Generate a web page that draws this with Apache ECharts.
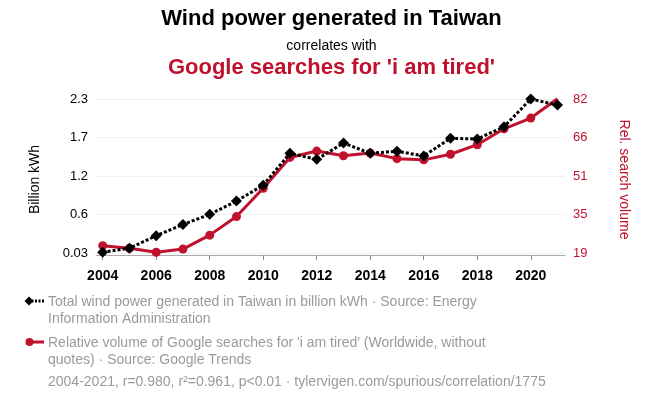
<!DOCTYPE html>
<html>
<head>
<meta charset="utf-8">
<script src="https://cdn.jsdelivr.net/npm/echarts@6/dist/echarts.min.js"></script>
<style>
  html, body { margin: 0; padding: 0; background: #fff; }
  #main { width: 663px; height: 399px; }
</style>
</head>
<body>
<div id="main"></div>
<script>
  // 数据
  var years = [2004, 2005, 2006, 2007, 2008, 2009, 2010, 2011, 2012, 2013, 2014, 2015, 2016, 2017, 2018, 2019, 2020, 2021];
  var windPower = [0.04, 0.10, 0.285, 0.45, 0.60, 0.795, 1.03, 1.50, 1.41, 1.65, 1.50, 1.53, 1.46, 1.72, 1.71, 1.89, 2.30, 2.21];
  var searches = [22.0, 20.9, 19.3, 20.6, 26.3, 33.9, 45.5, 58.1, 60.7, 58.8, 59.9, 57.6, 57.1, 59.4, 63.3, 69.8, 74.2, 82.1];
  var yearTicks = [2004, 2006, 2008, 2010, 2012, 2014, 2016, 2018, 2020];
  var leftTicks = [0.03, 0.5975, 1.165, 1.7325, 2.3];
  var leftTickLabels = ['0.03', '0.6', '1.2', '1.7', '2.3'];
  var rightTicks = [19, 34.75, 50.5, 66.25, 82];
  var rightTickLabels = ['19', '35', '51', '66', '82'];

  var RED = '#c0112e';
  var GREY = '#9a9a9a';
  var FONT = '"Liberation Sans", Arial, sans-serif';

  var myChart = echarts.init(document.getElementById('main'));

  var option = {
    backgroundColor: '#fff',
    textStyle: { fontFamily: FONT },
    animation: false,
    grid: { left: 96, right: 98, top: 99, bottom: 139 },
    xAxis: {
      type: 'value',
      min: 2003.75,
      max: 2021.28,
      axisLine: { lineStyle: { color: '#aaa', width: 1 } },
      axisTick: { show: true, length: 5, customValues: yearTicks, lineStyle: { color: '#888' } },
      splitLine: { show: false },
      axisLabel: {
        customValues: yearTicks,
        color: '#000',
        fontWeight: 'bold',
        fontSize: 14,
        margin: 9,
        fontFamily: FONT,
        formatter: function (v) { return String(Math.round(v)); }
      }
    },
    yAxis: [
      {
        type: 'value',
        min: -0.0734,
        max: 2.3,
        name: 'Billion kWh',
        nameLocation: 'middle',
        nameRotate: 90,
        nameGap: 54,
        nameTextStyle: { color: '#000', fontSize: 14, fontFamily: FONT },
        axisLine: { show: false },
        axisTick: { show: false, customValues: leftTicks },
        splitLine: { show: true, lineStyle: { color: '#f0f0f0', width: 1 } },
        axisLabel: {
          customValues: leftTicks,
          color: '#000',
          fontSize: 13,
          margin: 8,
          fontFamily: FONT,
          formatter: function (v) {
            var i = leftTicks.indexOf(v);
            return i >= 0 ? leftTickLabels[i] : '';
          }
        }
      },
      {
        type: 'value',
        position: 'right',
        min: 16.13,
        max: 82,
        name: 'Rel. search volume',
        nameLocation: 'middle',
        nameRotate: -90,
        nameGap: 52,
        nameTextStyle: { color: RED, fontSize: 14, fontFamily: FONT },
        axisLine: { show: false },
        axisTick: { show: false, customValues: rightTicks },
        splitLine: { show: false },
        axisLabel: {
          customValues: rightTicks,
          color: RED,
          fontSize: 13,
          margin: 8,
          fontFamily: FONT,
          formatter: function (v) {
            var i = rightTicks.indexOf(v);
            return i >= 0 ? rightTickLabels[i] : '';
          }
        }
      }
    ],
    title: [
      {
        text: 'Wind power generated in Taiwan',
        left: 'center', top: 3,
        textStyle: { color: '#000', fontSize: 22, fontWeight: 'bold', fontFamily: FONT }
      },
      {
        text: 'correlates with',
        left: 'center', top: 34,
        textStyle: { color: '#000', fontSize: 14, fontWeight: 'normal', fontFamily: FONT }
      },
      {
        text: "Google searches for 'i am tired'",
        left: 'center', top: 52,
        textStyle: { color: RED, fontSize: 22, fontWeight: 'bold', fontFamily: FONT }
      }
    ],
    series: [
      {
        name: 'search',
        type: 'line',
        yAxisIndex: 1,
        data: years.map(function (y, i) { return [y, searches[i]]; }),
        symbol: 'circle',
        symbolSize: 9,
        itemStyle: { color: RED },
        lineStyle: { color: RED, width: 3 },
        z: 2
      },
      {
        name: 'wind',
        type: 'line',
        yAxisIndex: 0,
        data: years.map(function (y, i) { return [y, windPower[i]]; }),
        symbol: 'diamond',
        symbolSize: 11,
        itemStyle: { color: '#000' },
        lineStyle: { color: '#000', width: 3, type: [3, 2] },
        z: 3
      }
    ],
    graphic: [
      // 图例
      { type: 'line', shape: { x1: 28, y1: 301, x2: 44, y2: 301 }, style: { stroke: '#000', lineWidth: 3, lineDash: [2, 1.5] } },
      { type: 'polygon', shape: { points: [[29, 296.5], [33.5, 301], [29, 305.5], [24.5, 301]] }, style: { fill: '#000' } },
      { type: 'text', left: 48, top: 293, style: { text: 'Total wind power generated in Taiwan in billion kWh · Source: Energy\nInformation Administration', fill: GREY, font: '14px ' + FONT, lineHeight: 17.5 } },
      { type: 'line', shape: { x1: 29, y1: 342, x2: 44, y2: 342 }, style: { stroke: RED, lineWidth: 3 } },
      { type: 'circle', shape: { cx: 29.5, cy: 342, r: 4 }, style: { fill: RED } },
      { type: 'text', left: 48, top: 334, style: { text: "Relative volume of Google searches for 'i am tired' (Worldwide, without\nquotes) · Source: Google Trends", fill: GREY, font: '14px ' + FONT, lineHeight: 17.5 } },
      { type: 'text', left: 48, top: 375, style: { text: '2004-2021, r=0.980, r²=0.961, p<0.01 · tylervigen.com/spurious/correlation/1775', fill: GREY, font: '14px ' + FONT } }
    ]
  };
  myChart.setOption(option);
</script>
</body>
</html>
